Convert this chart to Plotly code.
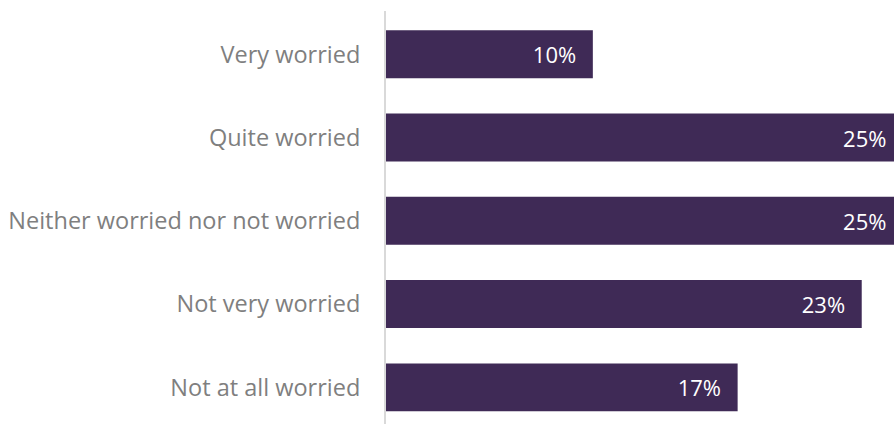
import plotly.graph_objects as go

# Survey responses: how worried people are
categories = [
    "Very worried",
    "Quite worried",
    "Neither worried nor not worried",
    "Not very worried",
    "Not at all worried",
]
shares = [10, 25, 25, 23, 17]  # percent of respondents

BAR_COLOR = "#3f2a56"
LABEL_GRAY = "#7f7f7f"
FONT = "Open Sans"
X_MAX = 24.56

# non-breaking spaces keep the value labels inset from the bar ends
INSET = "\u00a0" * 2 + "\u200a"
labels = [f"{v}%{INSET}" for v in shares]

fig = go.Figure(
    go.Bar(
        x=shares,
        y=categories,
        orientation="h",
        marker=dict(color=BAR_COLOR, line=dict(width=0)),
        width=0.576,
        text=labels,
        textposition="inside",
        insidetextanchor="end",
        textangle=0,
        textfont=dict(family=FONT, size=22, color="white"),
        cliponaxis=True,
        hoverinfo="skip",
    )
)

fig.update_layout(
    width=894,
    height=425,
    margin=dict(l=386, r=0, t=11, b=1),
    paper_bgcolor="white",
    plot_bgcolor="white",
    showlegend=False,
    font=dict(family=FONT),
    uniformtext=dict(mode=False),
)

fig.update_xaxes(
    range=[0, X_MAX],
    visible=False,
    showgrid=False,
    zeroline=False,
)

fig.update_yaxes(
    categoryorder="array",
    categoryarray=categories,
    range=[4.44, -0.52],
    showgrid=False,
    zeroline=False,
    showline=True,
    linecolor="#d9d9d9",
    linewidth=2,
    ticks="",
    ticklabelstandoff=19,
    tickfont=dict(family=FONT, size=23.5, color=LABEL_GRAY),
)

fig.write_html("out.html")
